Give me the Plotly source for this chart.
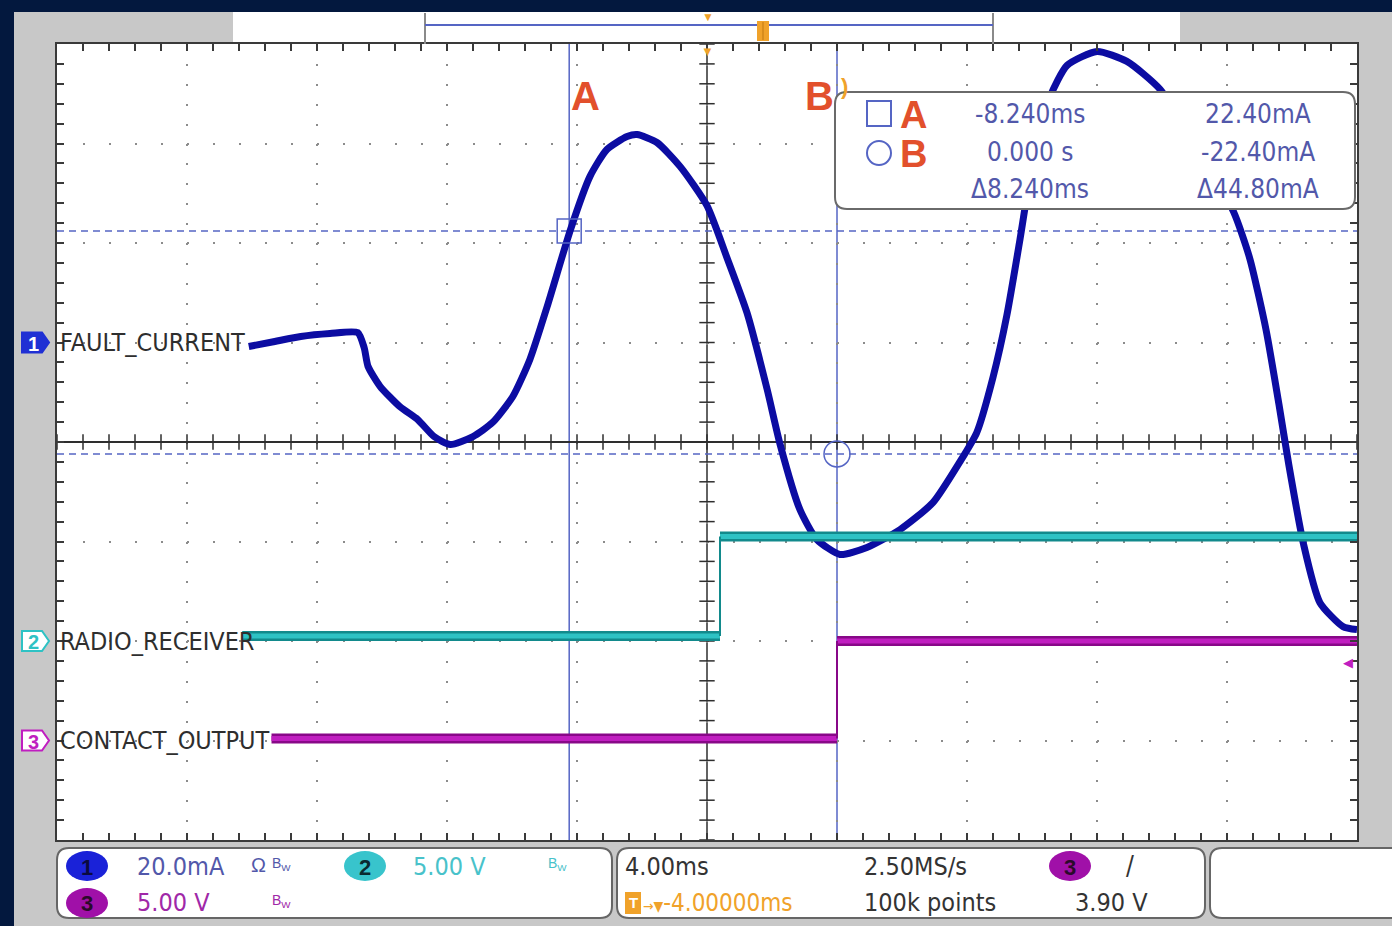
import plotly.graph_objects as go

# ------------------------------------------------------------------ data
# channel 1 : FAULT_CURRENT  (time in ms, current in mA)
fault_t_ms = [-18.1, -17.3, -16.5, -15.6, -14.75, -14.55, -14.43, -14.06, -13.45, -12.9,
              -12.4, -11.9, -11.2, -10.6, -9.97, -9.45, -8.92, -8.2, -7.6, -7.08,
              -6.46, -6.15, -5.54, -4.83, -4.0, -3.4, -2.77, -2.15, -1.75, -1.14,
              -0.62, 0.09, 0.92, 1.94, 2.95, 3.78, 4.3, 4.8, 5.23, 5.63,
              6.03, 6.55, 7.08, 8.0, 8.92, 9.94, 11.0, 12.2, 12.7, 13.2,
              13.6, 13.9, 14.35, 14.86, 15.57, 16.0]
fault_mA = [-0.8, 0.2, 1.2, 1.8, 2.0, -1.0, -4.8, -8.8, -12.9, -15.5,
            -18.9, -20.5, -18.9, -16.1, -10.8, -3.4, 7.2, 22.7, 33.4, 38.8,
            41.4, 41.8, 40.2, 35.4, 27.5, 17.3, 6.0, -9.4, -20.5, -33.6,
            -39.6, -42.6, -41.2, -37.6, -32.2, -24.0, -18.1, -7.0, 5.6, 20.7,
            36.6, 49.3, 55.7, 58.5, 56.5, 50.9, 40.0, 26.3, 16.9, 2.6,
            -12.5, -24.5, -40.4, -52.3, -57.1, -57.7]

# channel 2 : RADIO_RECEIVER (start, edge, end) in ms / volts
radio_t_ms = [-18.3, -3.6, 16.0]
radio_V = [0.25, 5.25, 5.25]

# channel 3 : CONTACT_OUTPUT
contact_t_ms = [-17.4, 0.0, 16.0]
contact_V = [0.1, 5.0, 5.0]

# cursors A and B
cursor_names = ["A", "B"]
cursor_t_ms = [-8.24, 0.0]
cursor_mA = [22.4, -22.4]
readout_time = ["-8.240ms", "0.000 s", "\u03948.240ms"]
readout_level = ["22.40mA", "-22.40mA", "\u039444.80mA"]

# scope settings
time_div_ms = 4.0
trigger_pos_ms = -4.0
trigger_level_V = 3.90
ch_scale = [20.0, 5.0, 5.0]      # mA/div, V/div, V/div
ch_offset_div = [1.0, -2.0, -3.0]
ch_names = ["FAULT_CURRENT", "RADIO_RECEIVER", "CONTACT_OUTPUT"]
status_scale = ["20.0mA", "5.00 V", "5.00 V"]
status_time = "4.00ms"
status_delay = "-4.00000ms"
status_rate = "2.50MS/s"
status_points = "100k points"
status_trig = "3.90 V"

# ------------------------------------------------------------------ layout helpers
W, H = 1392, 926
L, R, T, B = 57, 1357, 44, 840
NARROW = "Liberation Sans Narrow, DejaVu Sans Condensed, Arial Narrow, sans-serif"
SANS = "Liberation Sans, Arial, sans-serif"
NAVY = "#03183e"
PANEL = "#c8c8c8"
BLUE = "#0c0ca2"
TEAL = "#2ec2c4"
TEAL_D = "#128a8c"
MAG = "#c01ec0"
MAG_D = "#880888"
CUR = "#5565c4"
RED = "#e2502c"
ORANGE = "#f0a22a"
TXT_BLUE = "#5258aa"


def PX(x):
    return (x - L) / (R - L)


def PY(y):
    return (B - y) / (B - T)


def div_to_py(d):
    return (T + B) / 2 - d * (B - T) / 8


shapes = []
annotations = []


def rect(x0, y0, x1, y1, fill, line=None, lw=0, layer="below"):
    shapes.append(dict(type="rect", xref="paper", yref="paper",
                       x0=PX(x0), x1=PX(x1), y0=PY(y1), y1=PY(y0),
                       fillcolor=fill, line=dict(color=line or fill, width=lw), layer=layer))


def rrect(x0, y0, x1, y1, r, fill, line, lw, layer="above"):
    pts = [("M", x0 + r, y0), ("L", x1 - r, y0), ("Q", x1, y0, x1, y0 + r),
           ("L", x1, y1 - r), ("Q", x1, y1, x1 - r, y1), ("L", x0 + r, y1),
           ("Q", x0, y1, x0, y1 - r), ("L", x0, y0 + r), ("Q", x0, y0, x0 + r, y0)]
    p = ""
    for seg in pts:
        cmd = seg[0]
        nums = seg[1:]
        coords = []
        for i in range(0, len(nums), 2):
            coords.append(f"{PX(nums[i]):.5f},{PY(nums[i+1]):.5f}")
        p += cmd + " ".join(coords) + " "
    p += "Z"
    shapes.append(dict(type="path", xref="paper", yref="paper", path=p,
                       fillcolor=fill, line=dict(color=line, width=lw), layer=layer))


def ellipse(cx, cy, rx, ry, fill, line=None, lw=0, layer="above"):
    shapes.append(dict(type="circle", xref="paper", yref="paper",
                       x0=PX(cx - rx), x1=PX(cx + rx), y0=PY(cy + ry), y1=PY(cy - ry),
                       fillcolor=fill, line=dict(color=line or fill, width=lw), layer=layer))


def hline(x0, x1, y, color, w, dash="solid", layer="above"):
    shapes.append(dict(type="line", xref="paper", yref="paper", x0=PX(x0), x1=PX(x1),
                       y0=PY(y), y1=PY(y), line=dict(color=color, width=w, dash=dash), layer=layer))


def vline(x, y0, y1, color, w, layer="above"):
    shapes.append(dict(type="line", xref="paper", yref="paper", x0=PX(x), x1=PX(x),
                       y0=PY(y0), y1=PY(y1), line=dict(color=color, width=w), layer=layer))


def text(t, x, y, size, color, anchor="left", font=NARROW, weight="normal", **kw):
    annotations.append(dict(text=t, x=PX(x), y=PY(y), xref="paper", yref="paper",
                            xanchor=anchor, yanchor="middle", showarrow=False,
                            font=dict(size=size, color=color, family=font, weight=weight), **kw))


# ------------------------------------------------------------------ frame decorations
rect(0, 0, 14, H, NAVY)
rect(0, 0, W, 12, NAVY)
rect(233, 12, 1180, 44, "#ffffff")
vline(425, 13, 44, "#8a8a8a", 2)
vline(993, 13, 44, "#8a8a8a", 2)
hline(425, 993, 25, CUR, 2)
text("\u25BC", 708, 17, 12, ORANGE, anchor="center", font=SANS)
rect(757, 21, 769, 41, ORANGE, layer="above")
vline(763, 22, 40, "#c07810", 1)

# center vertical line at trigger position
shapes.append(dict(type="line", xref="x", yref="paper", x0=trigger_pos_ms, x1=trigger_pos_ms,
                   y0=0, y1=1, line=dict(color="#2e2e2e", width=1.5), layer="below"))

# cursors
for tc in cursor_t_ms:
    shapes.append(dict(type="line", xref="x", yref="paper", x0=tc, x1=tc, y0=0, y1=1,
                       line=dict(color=CUR, width=1.5), layer="below"))
for lv in cursor_mA:
    shapes.append(dict(type="line", xref="paper", yref="y2", x0=0, x1=1, y0=lv, y1=lv,
                       line=dict(color=CUR, width=1.5, dash="7px,5px"), layer="below"))

# cursor readout box
rrect(835, 92, 1355, 209, 12, "#ffffff", "#6a6a6a", 2)
rect(867, 101, 891, 126, "rgba(0,0,0,0)", CUR, 2, layer="above")
ellipse(879, 153, 12, 12, "rgba(0,0,0,0)", CUR, 2)
text(cursor_names[0], 913, 115, 38, RED, anchor="center", font=SANS, weight="bold")
text(cursor_names[1], 913, 154, 38, RED, anchor="center", font=SANS, weight="bold")
for i, yy in enumerate([114, 152, 189]):
    text(readout_time[i], 1030, yy, 26, TXT_BLUE, anchor="center")
    text(readout_level[i], 1258, yy, 26, TXT_BLUE, anchor="center")

# cursor labels in graticule
annotations.append(dict(text=cursor_names[0], x=cursor_t_ms[0], xref="x", xshift=16, y=PY(72),
                        yref="paper", showarrow=False,
                        font=dict(size=40, color=RED, family=SANS, weight="bold")))
annotations.append(dict(text=cursor_names[1], x=cursor_t_ms[1], xref="x", xshift=-18, y=PY(72),
                        yref="paper", showarrow=False,
                        font=dict(size=40, color=RED, family=SANS, weight="bold")))
annotations.append(dict(text=")", x=cursor_t_ms[1], xref="x", xshift=7, y=PY(72),
                        yref="paper", showarrow=False,
                        font=dict(size=22, color=ORANGE, family=SANS, weight="bold")))
annotations.append(dict(text="\u25BC", x=trigger_pos_ms, xref="x", y=1, yref="paper",
                        yanchor="top", yshift=2, showarrow=False,
                        font=dict(size=13, color=ORANGE, family=SANS)))
annotations.append(dict(text="\u25C0", x=1, xref="paper", xanchor="right", xshift=-2,
                        y=trigger_level_V, yref="y4", showarrow=False,
                        font=dict(size=13, color=MAG, family=SANS)))

# channel ground tags and names
tag_fill = ["#2030d4", "#ffffff", "#ffffff"]
tag_line = ["#2030d4", TEAL, MAG]
tag_txt = ["#ffffff", TEAL, MAG]
for i in range(3):
    yc = div_to_py(ch_offset_div[i])
    x0, x1, xt = 22, 42, 49
    p = (f"M{PX(x0):.5f},{PY(yc-10):.5f} L{PX(x1):.5f},{PY(yc-10):.5f} "
         f"L{PX(xt):.5f},{PY(yc):.5f} L{PX(x1):.5f},{PY(yc+10):.5f} "
         f"L{PX(x0):.5f},{PY(yc+10):.5f} Z")
    shapes.append(dict(type="path", xref="paper", yref="paper", path=p,
                       fillcolor=tag_fill[i], line=dict(color=tag_line[i], width=2), layer="above"))
    text(str(i + 1), 33, yc + 1, 20, tag_txt[i], anchor="center", font=SANS, weight="bold")
    text(ch_names[i], 58, yc, 25, "#2e2e2e")

# ------------------------------------------------------------------ status bar
rrect(57, 848, 612, 918, 12, "#ffffff", "#666666", 2)
rrect(617, 848, 1205, 918, 12, "#ffffff", "#666666", 2)
rrect(1210, 848, 1420, 918, 12, "#ffffff", "#666666", 2)
ellipse(87, 866, 21, 15, "#1a22d8")
text("1", 87, 867, 22, "#0a0a40", anchor="center", font=SANS, weight="bold")
text(status_scale[0], 135, 866, 25, TXT_BLUE)
text("\u03A9", 258, 865, 20, TXT_BLUE, anchor="center", font=SANS)
text("B<sub>W</sub>", 281, 864, 14, TXT_BLUE, anchor="center", font=SANS)
ellipse(365, 866, 21, 15, "#38c4cc")
text("2", 365, 867, 22, "#0a2a30", anchor="center", font=SANS, weight="bold")
text(status_scale[1], 411, 866, 25, "#48c2ca")
text("B<sub>W</sub>", 557, 864, 14, "#48c2ca", anchor="center", font=SANS)
ellipse(87, 903, 21, 15, "#a010a8")
text("3", 87, 904, 22, "#2a0a2a", anchor="center", font=SANS, weight="bold")
text(status_scale[2], 135, 903, 25, "#a028a8")
text("B<sub>W</sub>", 281, 901, 14, "#a028a8", anchor="center", font=SANS)

text(status_time, 623, 866, 25, "#333333")
rect(625, 892, 641, 914, ORANGE, layer="above")
text("T", 633, 903, 15, "#ffffff", anchor="center", font=SANS, weight="bold")
text("<span style='font-size:14px'>\u2192\u25BC</span>" + status_delay, 641, 903, 24, ORANGE)
text(status_rate, 862, 866, 25, "#333333")
text(status_points, 862, 903, 25, "#333333")
ellipse(1070, 866, 21, 15, "#a010a8")
text("3", 1070, 867, 22, "#2a0a2a", anchor="center", font=SANS, weight="bold")
text("/", 1130, 866, 26, "#333333", anchor="center")
text(status_trig, 1073, 903, 25, "#333333")

# ------------------------------------------------------------------ traces
fig = go.Figure()

n_x = int(round(10 * 5 / 2))
x_ticks = [trigger_pos_ms + k * time_div_ms / 5 for k in range(-n_x, n_x + 1)]
y_ticks = [k / 5 for k in range(-20, 21)]
fig.add_trace(go.Scatter(x=x_ticks, y=[0] * len(x_ticks), mode="markers", hoverinfo="skip",
                         marker=dict(symbol="line-ns", size=11, line=dict(width=1.5, color="#2e2e2e")),
                         showlegend=False))
fig.add_trace(go.Scatter(x=[trigger_pos_ms] * len(y_ticks), y=y_ticks, mode="markers", hoverinfo="skip",
                         marker=dict(symbol="line-ew", size=11, line=dict(width=1.5, color="#2e2e2e")),
                         showlegend=False))

# channel 2
r_x = [radio_t_ms[0], radio_t_ms[1], None, radio_t_ms[1], radio_t_ms[2]]
r_y = [radio_V[0], radio_V[0], None, radio_V[1], radio_V[2]]
fig.add_trace(go.Scatter(x=r_x, y=r_y, yaxis="y3", mode="lines",
                         line=dict(color=TEAL_D, width=10), showlegend=False))
fig.add_trace(go.Scatter(x=r_x, y=r_y, yaxis="y3", mode="lines",
                         line=dict(color=TEAL, width=5), showlegend=False))
fig.add_trace(go.Scatter(x=[radio_t_ms[1], radio_t_ms[1]], y=[radio_V[0], radio_V[1]], yaxis="y3",
                         mode="lines", line=dict(color=TEAL_D, width=2), showlegend=False))

# channel 3
c_x = [contact_t_ms[0], contact_t_ms[1], None, contact_t_ms[1], contact_t_ms[2]]
c_y = [contact_V[0], contact_V[0], None, contact_V[1], contact_V[2]]
fig.add_trace(go.Scatter(x=c_x, y=c_y, yaxis="y4", mode="lines",
                         line=dict(color=MAG_D, width=10), showlegend=False))
fig.add_trace(go.Scatter(x=c_x, y=c_y, yaxis="y4", mode="lines",
                         line=dict(color=MAG, width=5), showlegend=False))
fig.add_trace(go.Scatter(x=[contact_t_ms[1], contact_t_ms[1]], y=[contact_V[0], contact_V[1]], yaxis="y4",
                         mode="lines", line=dict(color=MAG_D, width=2), showlegend=False))

# channel 1
fig.add_trace(go.Scatter(x=fault_t_ms, y=fault_mA, yaxis="y2", mode="lines",
                         line=dict(color=BLUE, width=7, shape="spline", smoothing=0.6),
                         showlegend=False))

# cursor markers
fig.add_trace(go.Scatter(x=[cursor_t_ms[0]], y=[cursor_mA[0]], yaxis="y2", mode="markers",
                         marker=dict(symbol="square-open", size=24, color=CUR, line=dict(width=1.5)),
                         showlegend=False))
fig.add_trace(go.Scatter(x=[cursor_t_ms[1]], y=[cursor_mA[1]], yaxis="y2", mode="markers",
                         marker=dict(symbol="circle-open", size=26, color=CUR, line=dict(width=1.5)),
                         showlegend=False))

# ------------------------------------------------------------------ axes
x_lo = trigger_pos_ms - 5 * time_div_ms
x_hi = trigger_pos_ms + 5 * time_div_ms


def ch_range(i):
    return [(-4 - ch_offset_div[i]) * ch_scale[i], (4 - ch_offset_div[i]) * ch_scale[i]]


fig.update_layout(
    width=W, height=H,
    margin=dict(l=L, r=W - R, t=T, b=H - B, pad=0),
    paper_bgcolor=PANEL, plot_bgcolor="#ffffff",
    shapes=shapes, annotations=annotations,
    xaxis=dict(range=[x_lo, x_hi], dtick=time_div_ms, tick0=x_lo, showticklabels=False,
               showgrid=True, gridcolor="#8c8c8c", gridwidth=2, griddash="2px,17.9px",
               zeroline=False, showline=True, linecolor="#3a3a3a", linewidth=2, mirror="ticks",
               ticks="inside", ticklen=7, tickwidth=1.5, tickcolor="#3a3a3a",
               minor=dict(dtick=time_div_ms / 5, tick0=x_lo, ticks="inside", ticklen=7,
                          tickwidth=1.5, tickcolor="#3a3a3a", showgrid=False),
               fixedrange=True),
    yaxis=dict(range=[-4, 4], dtick=1, tick0=-4, showticklabels=False,
               showgrid=True, gridcolor="#8c8c8c", gridwidth=2, griddash="2px,24px",
               zeroline=True, zerolinecolor="#2e2e2e", zerolinewidth=1.5,
               showline=True, linecolor="#3a3a3a", linewidth=2, mirror="ticks",
               ticks="inside", ticklen=7, tickwidth=1.5, tickcolor="#3a3a3a",
               minor=dict(dtick=0.2, tick0=-4, ticks="inside", ticklen=7,
                          tickwidth=1.5, tickcolor="#3a3a3a", showgrid=False),
               fixedrange=True),
    yaxis2=dict(range=ch_range(0), overlaying="y", visible=False, fixedrange=True),
    yaxis3=dict(range=ch_range(1), overlaying="y", visible=False, fixedrange=True),
    yaxis4=dict(range=ch_range(2), overlaying="y", visible=False, fixedrange=True),
    showlegend=False,
)

fig.write_html("out.html", config={"displayModeBar": False},
               post_script="document.body.style.margin='0px';")
